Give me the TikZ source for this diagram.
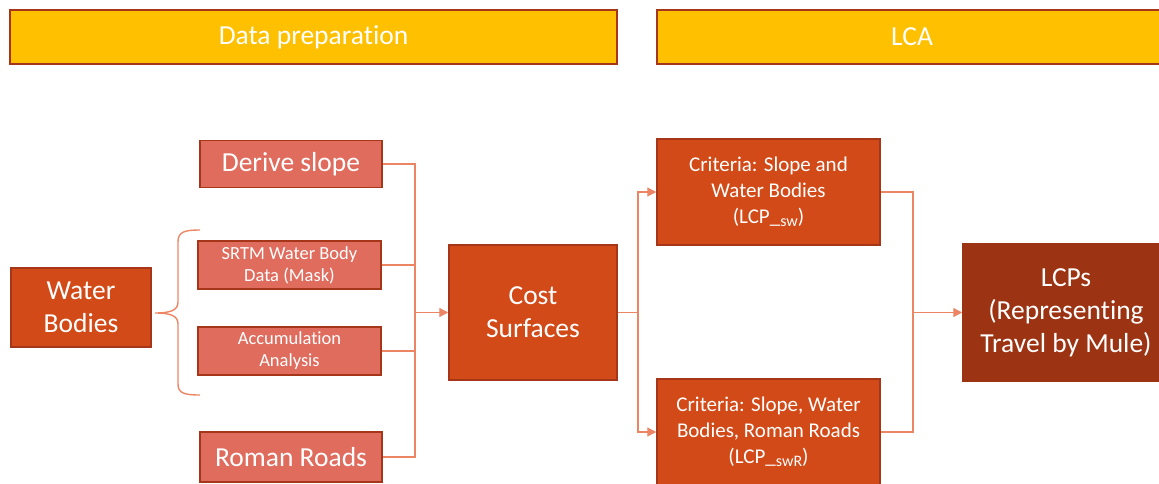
\documentclass[tikz,border=0pt]{standalone}
\usepackage{fontspec}
\setmainfont{Carlito}[Ligatures=NoCommon]
\usetikzlibrary{arrows.meta}

\definecolor{amber}{HTML}{FFC000}
\definecolor{rust}{HTML}{A5361A}
\definecolor{salmon}{HTML}{E06C5E}
\definecolor{burnt}{HTML}{D24A18}
\definecolor{maroon}{HTML}{9C3414}
\definecolor{wire}{HTML}{EC8564}

\newcommand{\bigtxt}{\fontsize{27.5}{33}\selectfont}
\newcommand{\midtxt}{\fontsize{21}{26}\selectfont}
\newcommand{\smalltxt}{\fontsize{18.5}{22}\selectfont}
\newcommand{\lcpsub}[1]{\lower2.5pt\hbox{\fontsize{16}{16}\selectfont #1}}

\begin{document}
\begin{tikzpicture}[x=1pt,y=-1pt,
    box/.style={draw=rust,line width=1.5pt,text=white,align=center,inner sep=0pt},
    hdr/.style={box,fill=amber,minimum height=54,font=\bigtxt},
    prep/.style={box,fill=salmon},
    main/.style={box,fill=burnt},
    link/.style={draw=wire,line width=1.4pt},
    arr/.style={link,-{Triangle[length=9pt,width=9pt]}}]
\useasboundingbox (0,0) rectangle (1159,483);
\clip (0,0) rectangle (1159,483);

% stage headers
\node[hdr,minimum width=607] (hprep) at (313.5,37) {Data preparation};
\node[hdr,minimum width=510] (hlca) at (912,37) {LCA};

% inputs
\node[prep,minimum width=182,minimum height=47,font=\bigtxt] (slope) at (291,164) {Derive slope};
\node[prep,minimum width=183,minimum height=48,font=\smalltxt] (srtm) at (289.5,265) {SRTM Water Body\\Data (Mask)};
\node[prep,minimum width=183,minimum height=48,font=\smalltxt] (accum) at (289.5,351) {Accumulation\\Analysis};
\node[prep,minimum width=182,minimum height=50,font=\bigtxt] (roads) at (291,457) {Roman Roads};
\node[main,minimum width=140,minimum height=79,font=\bigtxt] (water) at (81,307.5) {Water\\Bodies};

% brace round the water body inputs
\coordinate (btop) at (200,230);
\coordinate (btip) at (155,313);
\coordinate (bbot) at (200,395);
\draw[link] (btop) .. controls (184,230) and (178,232) .. (178,242) -- (178,302)
  .. controls (178,310) and (171,313) .. (btip)
  .. controls (171,313) and (178,316) .. (178,324) -- (178,384)
  .. controls (178,393) and (184,395) .. (bbot);

\node[main,minimum width=168,minimum height=135,font=\bigtxt] (cost) at (533,312.5) {Cost\\Surfaces};

% least cost analysis
\node[main,minimum width=223,minimum height=106,font=\midtxt] (crit1) at (768.5,192) {Criteria: Slope and\\Water Bodies\\(LCP\_\lcpsub{sw})};
\node[main,minimum width=223,minimum height=106,font=\midtxt] (crit2) at (768.5,432) {Criteria: Slope, Water\\Bodies, Roman Roads\\(LCP\_\lcpsub{swR})};
\node[box,draw=maroon,fill=maroon,minimum width=206,minimum height=137,font=\bigtxt] (lcp) at (1066,312.5) {LCPs\\(Representing\\Travel by Mule)};

% connectors
\coordinate (lbus) at (415,312.5);
\coordinate (mbus) at (638,312.5);
\coordinate (rbus) at (913,312.5);

\draw[link] (slope.east) -| (lbus) |- (roads.east);
\draw[link] (srtm.east) -- (srtm.east -| lbus);
\draw[link] (accum.east) -- (accum.east -| lbus);
\draw[arr] (lbus) -- (cost.west);

\draw[link] (cost.east) -- (mbus);
\draw[arr] (mbus) |- (crit1.west);
\draw[arr] (mbus) |- (crit2.west);

\draw[link] (crit1.east) -| (rbus) |- (crit2.east);
\draw[arr] (rbus) -- (lcp.west);
\end{tikzpicture}
\end{document}
